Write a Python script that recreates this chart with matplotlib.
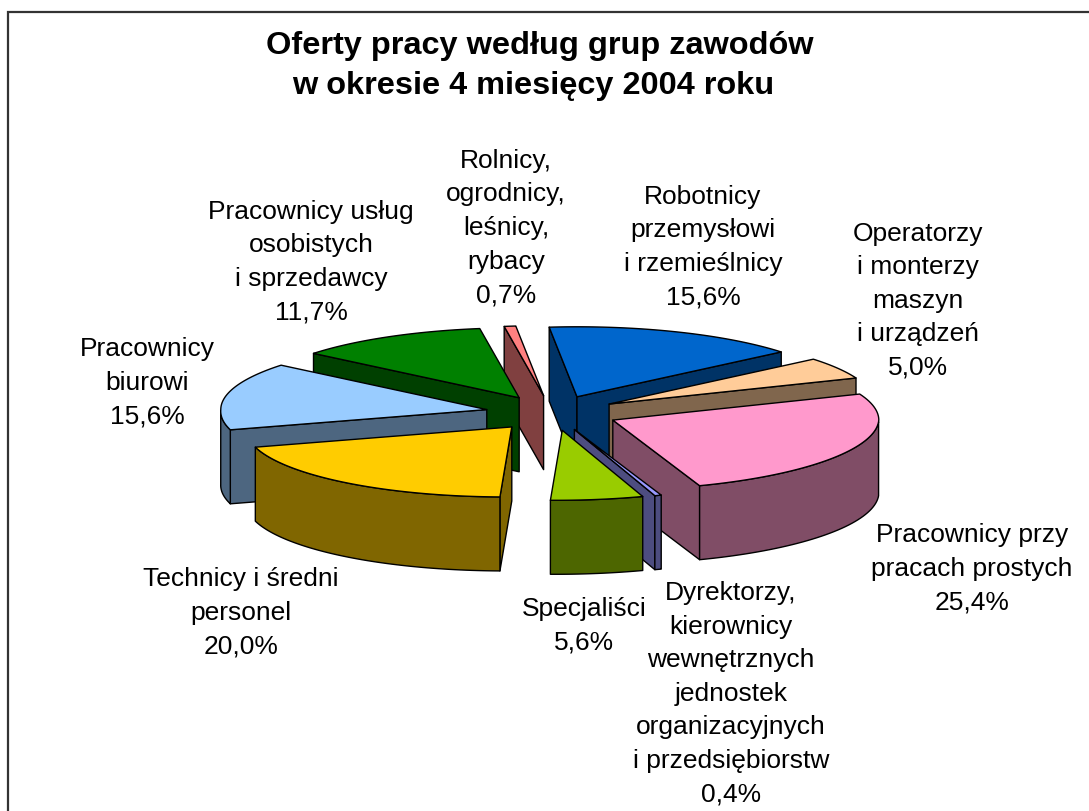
import numpy as np
import matplotlib
matplotlib.use('Agg')
import matplotlib.pyplot as plt
from matplotlib.patches import Polygon, Rectangle
from matplotlib.colors import to_rgb

plt.rcParams['font.family'] = ['Liberation Sans', 'DejaVu Sans']

title_lines = ['Oferty pracy według grup zawodów', 'w okresie 4 miesięcy 2004 roku']
title_x = [540, 533]
title_y = [46, 86]

# wartosci w kolejnosci ruchu wskazowek, od gory
names = ['Robotnicy\nprzemysłowi\ni rzemieślnicy',
         'Operatorzy\ni monterzy\nmaszyn\ni urządzeń',
         'Pracownicy przy\npracach prostych',
         'Dyrektorzy,\nkierownicy\nwewnętrznych\njednostek\norganizacyjnych\ni przedsiębiorstw',
         'Specjaliści',
         'Technicy i średni\npersonel',
         'Pracownicy\nbiurowi',
         'Pracownicy usług\nosobistych\ni sprzedawcy',
         'Rolnicy,\nogrodnicy,\nleśnicy,\nrybacy']
values = [15.6, 5.0, 25.4, 0.4, 5.6, 20.0, 15.6, 11.7, 0.7]
colors = ['#0066CC', '#FFCC99', '#FF99CC', '#9999FF', '#99CC00',
          '#FFCC00', '#99CCFF', '#008000', '#FF8080']

# srodki etykiet
label_x = [703, 918, 972, 731, 584, 241, 147, 311, 506]
label_y = [247, 301, 569, 694, 626, 613, 383, 262, 228]

# kolejnosc rysowania, od tylu do przodu
order = [8, 7, 0, 1, 6, 2, 3, 4, 5]

# geometria "3D" kola
cx, cy = 552, 414
rx, ry = 266, 70
explode = 0.25
depth = 74
start = -6.0
skew = -0.09  # przod kola lekko przesuniety w lewo


def pt(phi, r=1.0):
    x = r * rx * np.sin(phi)
    y = -r * ry * np.cos(phi)
    return np.column_stack([x + skew * np.maximum(y, 0), y])


def face(ax, xy, col, z):
    ax.add_patch(Polygon(xy, closed=True, facecolor=col, edgecolor='black',
                         linewidth=1.0, joinstyle='round', zorder=z))


fig = plt.figure(figsize=(10.89, 8.12), dpi=100)
ax = fig.add_axes([0, 0, 1, 1])
ax.set_xlim(0, 1089)
ax.set_ylim(812, 0)
ax.axis('off')

ax.add_patch(Rectangle((8, 12.7), 1100, 830, facecolor='white', edgecolor='#333333',
                       linewidth=1.6, zorder=0))

edges = np.radians(start + np.concatenate([[0], np.cumsum(values)]) * 360 / sum(values))
down = np.array([0, depth])

z = 1
for i in order:
    a, b = edges[i], edges[i + 1]
    mid = (a + b) / 2
    apex = np.array([cx, cy]) + np.array([explode * rx * np.sin(mid), -explode * ry * np.cos(mid)])
    side = np.array(to_rgb(colors[i])) * 0.5
    phi = np.linspace(a, b, 60)
    arc = apex + pt(phi)

    # sciany promieniowe, tylko te widoczne od przodu
    if np.sin(a) < 0:
        p = apex + pt(np.array([a]))[0]
        face(ax, [apex, p, p + down, apex + down], side, z)
        z += 1
    if np.sin(b) > 0:
        p = apex + pt(np.array([b]))[0]
        face(ax, [apex, p, p + down, apex + down], side, z)
        z += 1

    # sciana zewnetrzna, tylko przednia czesc luku
    front = np.cos(phi) <= 0
    if front.sum() > 1:
        top = arc[front]
        face(ax, np.vstack([top, (top + down)[::-1]]), side, z)
        z += 1

    face(ax, np.vstack([[apex], arc]), colors[i], z)
    z += 1

for line, x, y in zip(title_lines, title_x, title_y):
    ax.text(x, y, line, fontsize=23.4, fontweight='bold', ha='center', va='center', zorder=50)

for name, v, x, y in zip(names, values, label_x, label_y):
    txt = name + '\n' + f'{v:.1f}'.replace('.', ',') + '%'
    ax.text(x, y, txt, fontsize=19, ha='center', va='center', linespacing=1.5, zorder=50)

fig.savefig('out.png', dpi=100)
